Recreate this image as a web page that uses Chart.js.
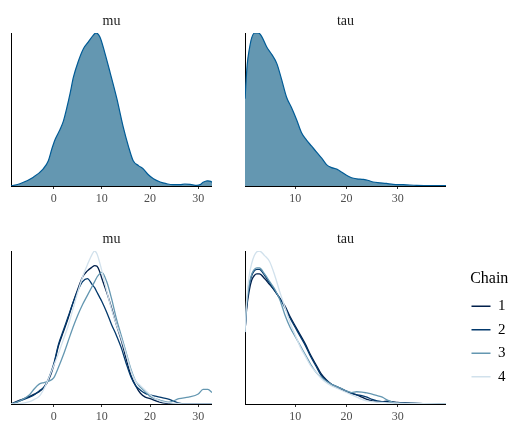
<!DOCTYPE html>
<html>
<head>
<meta charset="utf-8">
<script src="https://cdn.jsdelivr.net/npm/chart.js@4.4.0/dist/chart.umd.min.js"></script>
<style>
    html, body { margin: 0; padding: 0; background: #fff; overflow: hidden; }
    body { width: 525px; height: 434px; position: relative; }
    canvas { position: absolute; }
</style>
</head>
<body>
<canvas id="muTop" width="201" height="212" style="left:11px; top:0px;"></canvas>
<canvas id="tauTop" width="201" height="212" style="left:245px; top:0px;"></canvas>
<canvas id="muChains" width="201" height="212" style="left:11px; top:218px;"></canvas>
<canvas id="tauChains" width="201" height="212" style="left:245px; top:218px;"></canvas>
<canvas id="chainLegend" width="130" height="140" style="left:463px; top:262px;"></canvas>

<script>
//------------Data-----------------

// x limits and tick labels of the two parameters
const muRange = [-8.85, 32.85];
const tauRange = [0.18, 39.44];
const muTicks = [0, 10, 20, 30];
const tauTicks = [10, 20, 30];

// pooled density of mu (top left)
const muX = [-8.85, -7.0, -4.2, -2.2, -1.1, -0.4, 0.3, 1.3, 2.0, 2.7, 3.4, 4.1, 5.1, 6.2, 7.2, 8.2, 8.8, 9.6,
    10.6, 11.7, 13.1, 14.4, 15.5, 16.5, 17.6, 18.6, 19.6, 20.7, 22.1, 23.4, 24.8, 26.2, 27.2, 28.3, 29.7,
    30.4, 31.0, 31.9, 32.6, 32.85];
const muDensity = [0, 0.015, 0.058, 0.111, 0.165, 0.24, 0.304, 0.368, 0.422, 0.507, 0.604, 0.711, 0.814, 0.899,
    0.942, 0.985, 1.0, 0.974, 0.872, 0.743, 0.572, 0.39, 0.261, 0.165, 0.133, 0.111, 0.075, 0.047, 0.026,
    0.015, 0.009, 0.009, 0.013, 0.011, 0.004, 0.009, 0.024, 0.034, 0.03, 0.024];

// pooled density of tau (top right)
const tauX = [0.18, 0.6, 1.0, 1.5, 2.1, 2.8, 3.4, 4.4, 5.4, 6.4, 7.3, 8.3, 9.3, 10.3, 11.2, 12.2, 13.2, 14.2,
    15.2, 16.1, 17.1, 18.1, 19.1, 20.0, 21.0, 22.0, 23.3, 24.3, 25.2, 26.5, 27.8, 29.1, 31.1, 33.7, 36.3, 39.44];
const tauDensity = [0.57, 0.79, 0.89, 0.97, 1.0, 1.0, 0.98, 0.91, 0.86, 0.8, 0.7, 0.58, 0.51, 0.43, 0.35, 0.3,
    0.26, 0.22, 0.18, 0.14, 0.12, 0.11, 0.09, 0.07, 0.054, 0.047, 0.043, 0.036, 0.026, 0.021, 0.017, 0.011,
    0.009, 0.004, 0.002, 0.002];

// per chain densities (bottom row)
const chainNames = ['1', '2', '3', '4'];
const chainColors = ['#011f4b', '#03396c', '#6497b1', '#d1e1ec'];

const muGrid = [-8.85, -7, -5, -4, -3, -2, -1, 0, 1, 2, 3, 4, 5, 6, 7, 8, 8.5, 9, 9.5, 10, 11, 12, 13, 14, 15,
    16, 17, 18, 19, 20, 22, 24, 26, 28, 30, 31, 32, 32.85];
const muChain1 = [0, 0.025, 0.05, 0.065, 0.08, 0.11, 0.16, 0.25, 0.38, 0.47, 0.56, 0.66, 0.75, 0.83, 0.87, 0.895,
    0.905, 0.9, 0.87, 0.82, 0.73, 0.63, 0.52, 0.42, 0.3, 0.19, 0.12, 0.07, 0.045, 0.035, 0.012, 0.003, 0, 0, 0, 0, 0, 0];
const muChain2 = [0, 0.02, 0.045, 0.06, 0.085, 0.11, 0.17, 0.26, 0.39, 0.48, 0.57, 0.66, 0.74, 0.8, 0.82, 0.78,
    0.76, 0.73, 0.7, 0.67, 0.6, 0.52, 0.45, 0.37, 0.27, 0.18, 0.12, 0.09, 0.07, 0.06, 0.045, 0.03, 0.006, 0, 0, 0, 0, 0];
const muChain3 = [0, 0.02, 0.06, 0.1, 0.13, 0.14, 0.15, 0.17, 0.24, 0.32, 0.41, 0.5, 0.58, 0.65, 0.71, 0.77,
    0.8, 0.83, 0.85, 0.86, 0.8, 0.69, 0.56, 0.45, 0.34, 0.23, 0.15, 0.11, 0.08, 0.05, 0.025, 0.012, 0.035, 0.045,
    0.065, 0.095, 0.095, 0.075];
const muChain4 = [0, 0.003, 0.015, 0.03, 0.05, 0.1, 0.17, 0.25, 0.33, 0.42, 0.51, 0.62, 0.73, 0.83, 0.91, 0.98,
    1.0, 0.98, 0.93, 0.87, 0.74, 0.62, 0.52, 0.43, 0.33, 0.22, 0.15, 0.12, 0.09, 0.06, 0.02, 0.008, 0.003, 0.001,
    0, 0, 0, 0];

const tauGrid = [0.18, 0.5, 1, 1.5, 2, 2.5, 3, 4, 5, 6, 7, 8, 9, 10, 11, 12, 13, 14, 15, 16, 17, 18, 19, 20, 21,
    22, 23, 24, 25, 26, 27, 28, 29, 30, 32, 35, 39.44];
const tauChain1 = [0.47, 0.62, 0.74, 0.81, 0.84, 0.85, 0.85, 0.82, 0.78, 0.74, 0.69, 0.64, 0.57, 0.51, 0.45, 0.39,
    0.32, 0.26, 0.2, 0.16, 0.13, 0.11, 0.095, 0.08, 0.07, 0.06, 0.045, 0.03, 0.02, 0.015, 0.015, 0.018, 0.015,
    0.01, 0.005, 0.002, 0.001];
const tauChain2 = [0.47, 0.64, 0.77, 0.84, 0.87, 0.88, 0.88, 0.84, 0.79, 0.74, 0.69, 0.63, 0.56, 0.5, 0.44, 0.38,
    0.31, 0.25, 0.19, 0.155, 0.13, 0.115, 0.1, 0.085, 0.07, 0.06, 0.055, 0.045, 0.03, 0.02, 0.015, 0.012, 0.01,
    0.008, 0.005, 0.002, 0.001];
const tauChain3 = [0.47, 0.65, 0.78, 0.85, 0.88, 0.89, 0.89, 0.85, 0.8, 0.75, 0.68, 0.58, 0.5, 0.44, 0.38, 0.32,
    0.26, 0.21, 0.175, 0.15, 0.13, 0.115, 0.1, 0.085, 0.075, 0.08, 0.078, 0.072, 0.065, 0.055, 0.045, 0.025,
    0.012, 0.006, 0.004, 0.002, 0.001];
const tauChain4 = [0.47, 0.68, 0.84, 0.92, 0.97, 0.995, 1.0, 0.97, 0.93, 0.84, 0.73, 0.63, 0.53, 0.45, 0.37, 0.31,
    0.25, 0.21, 0.17, 0.14, 0.12, 0.105, 0.09, 0.075, 0.06, 0.045, 0.03, 0.02, 0.015, 0.012, 0.01, 0.008, 0.006,
    0.005, 0.003, 0.002, 0.001];

//------------Data-----------------

Chart.defaults.font.family = "'Liberation Serif', 'DejaVu Serif', serif";

// zip x and y arrays into points
function toPoints(xs, ys) {
    return xs.map((x, i) => ({ x: x, y: ys[i] }));
}

// shared look of one facet panel
function panelOptions(title, range, ticks, yMax) {
    return {
        responsive: false,
        animation: false,
        layout: { padding: { bottom: 2.6 } },
        plugins: {
            legend: { display: false },
            tooltip: { enabled: false },
            title: {
                display: true,
                text: title,
                color: '#1a1a1a',
                font: { size: 14, weight: 'normal' },
                padding: { top: 12.6, bottom: 3.6 }
            }
        },
        elements: { point: { radius: 0 } },
        scales: {
            x: {
                type: 'linear',
                min: range[0],
                max: range[1],
                afterBuildTicks: scale => { scale.ticks = ticks.map(v => ({ value: v })); },
                grid: { display: true, drawOnChartArea: false, drawTicks: true, tickLength: 3, color: '#333333' },
                border: { display: true, color: '#000', width: 1 },
                ticks: { color: '#4d4d4d', font: { size: 12 }, padding: 3, maxRotation: 0, autoSkip: false }
            },
            y: {
                min: 0,
                max: yMax,
                grid: { display: false, drawTicks: false },
                border: { display: true, color: '#000', width: 1 },
                ticks: { display: false }
            }
        }
    };
}

function densityChart(id, title, xs, ys, range, ticks) {
    new Chart(document.getElementById(id), {
        type: 'line',
        data: {
            datasets: [{
                data: toPoints(xs, ys),
                borderColor: '#005b96',
                backgroundColor: '#6497b1',
                borderWidth: 1.2,
                fill: 'origin',
                cubicInterpolationMode: 'monotone'
            }]
        },
        options: panelOptions(title, range, ticks, Math.max(...ys))
    });
}

function chainChart(id, title, xs, chains, range, ticks) {
    const yMax = Math.max(...chains.map(c => Math.max(...c)));
    new Chart(document.getElementById(id), {
        type: 'line',
        data: {
            datasets: chains.map((ys, i) => ({
                label: chainNames[i],
                data: toPoints(xs, ys),
                borderColor: chainColors[i],
                borderWidth: 1.3,
                fill: false,
                cubicInterpolationMode: 'monotone',
                order: chains.length - i        // chain 4 drawn on top
            }))
        },
        options: panelOptions(title, range, ticks, yMax)
    });
}

densityChart('muTop', 'mu', muX, muDensity, muRange, muTicks);
densityChart('tauTop', 'tau', tauX, tauDensity, tauRange, tauTicks);
chainChart('muChains', 'mu', muGrid, [muChain1, muChain2, muChain3, muChain4], muRange, muTicks);
chainChart('tauChains', 'tau', tauGrid, [tauChain1, tauChain2, tauChain3, tauChain4], tauRange, tauTicks);

//------------Legend-----------------
new Chart(document.getElementById('chainLegend'), {
    type: 'line',
    data: {
        datasets: chainNames.map((name, i) => ({
            label: name,
            data: [],
            borderColor: chainColors[i],
            backgroundColor: chainColors[i],
            borderWidth: 1.5
        }))
    },
    options: {
        responsive: false,
        animation: false,
        scales: { x: { display: false }, y: { display: false } },
        plugins: {
            tooltip: { enabled: false },
            legend: {
                position: 'left',
                align: 'start',
                title: {
                    display: true,
                    text: 'Chain',
                    color: '#000',
                    position: 'center',
                    font: { size: 16, weight: 'normal' },
                    padding: { top: 9, bottom: 0 }
                },
                labels: {
                    usePointStyle: true,
                    pointStyle: 'line',
                    pointStyleWidth: 19,
                    color: '#000',
                    font: { size: 15 },
                    padding: 8.5
                }
            }
        }
    }
});
</script>
</body>
</html>
